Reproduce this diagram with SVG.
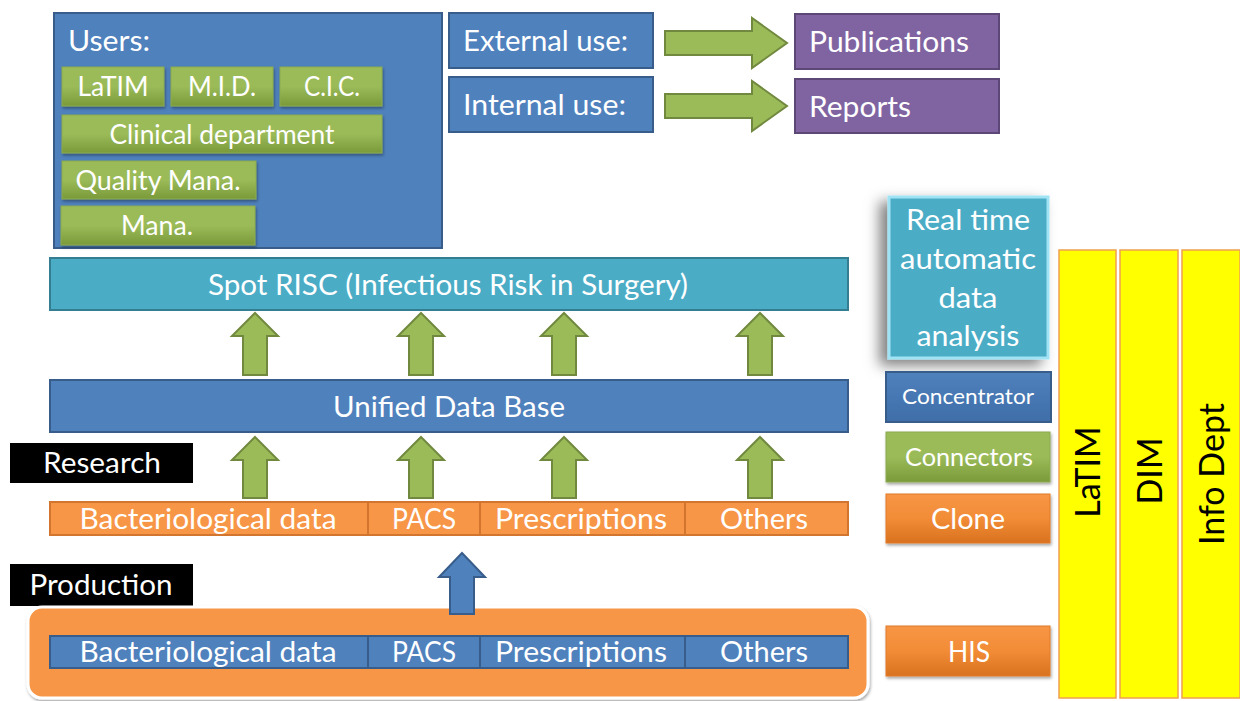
<svg xmlns="http://www.w3.org/2000/svg" width="1240" height="701" viewBox="0 0 1240 701">
<defs>
<linearGradient id="gGreen" x1="0" y1="0" x2="0" y2="1"><stop offset="0" stop-color="#9BBB59"/><stop offset="0.5" stop-color="#9BBB59"/><stop offset="1" stop-color="#7A9A3A"/></linearGradient>
<linearGradient id="gOrange" x1="0" y1="0" x2="0" y2="1"><stop offset="0" stop-color="#F79646"/><stop offset="0.5" stop-color="#F28C36"/><stop offset="1" stop-color="#D9721F"/></linearGradient>
<linearGradient id="gBlue" x1="0" y1="0" x2="0" y2="1"><stop offset="0" stop-color="#4F81BD"/><stop offset="1" stop-color="#3F6EA8"/></linearGradient>
<filter id="sh" x="-10%" y="-20%" width="130%" height="150%"><feDropShadow dx="1" dy="2" stdDeviation="1.5" flood-color="#000" flood-opacity="0.35"/></filter>
<filter id="shBig" x="-30%" y="-20%" width="150%" height="150%"><feDropShadow dx="-8" dy="6" stdDeviation="7" flood-color="#000" flood-opacity="0.5"/></filter>
<style>
.t{font-family:Lato,"Open Sans","Liberation Sans",sans-serif;fill:#fff;}
.blue{fill:#4F81BD;stroke:#385D8A;stroke-width:2;}
.green{fill:url(#gGreen);stroke:#8CAA4E;stroke-width:1;}
.orange{fill:#F79646;stroke:#D2762F;stroke-width:2;}
.purple{fill:#8064A2;stroke:#5C4776;stroke-width:2;}
.cyan{fill:#4BACC6;stroke:#357D91;stroke-width:2;}
.arrowG{fill:#9BBB59;stroke:#71893F;stroke-width:2;}
.arrowB{fill:#4F81BD;stroke:#385D8A;stroke-width:2;}
.yellow{fill:#FFFF00;stroke:#F0A050;stroke-width:1.5;}
.black{fill:#000;}
.v{font-family:Lato,"Liberation Sans",sans-serif;fill:#000;font-size:34px;}
</style>
</defs>
<rect width="1240" height="701" fill="#fff"/>

<g id="users">
<rect class="blue" x="54" y="13" width="388" height="235"/>
<text class="t" x="68" y="51" font-size="28" textLength="82" lengthAdjust="spacingAndGlyphs">Users:</text>
<g id="u-latim"><rect class="green" x="62" y="67" width="102" height="39" filter="url(#sh)"/><text class="t" x="113" y="96" font-size="26" text-anchor="middle" textLength="71" lengthAdjust="spacingAndGlyphs">LaTIM</text></g>
<g id="u-mid"><rect class="green" x="171" y="67" width="102" height="39" filter="url(#sh)"/><text class="t" x="222" y="96" font-size="26" text-anchor="middle" textLength="68" lengthAdjust="spacingAndGlyphs">M.I.D.</text></g>
<g id="u-cic"><rect class="green" x="280" y="67" width="102" height="39" filter="url(#sh)"/><text class="t" x="332" y="96" font-size="26" text-anchor="middle" textLength="56" lengthAdjust="spacingAndGlyphs">C.I.C.</text></g>
<g id="u-clin"><rect class="green" x="62" y="115" width="320" height="38" filter="url(#sh)"/><text class="t" x="222" y="144" font-size="26" text-anchor="middle" textLength="225" lengthAdjust="spacingAndGlyphs">Clinical department</text></g>
<g id="u-qual"><rect class="green" x="62" y="161" width="194" height="38" filter="url(#sh)"/><text class="t" x="158" y="190" font-size="26" text-anchor="middle" textLength="165" lengthAdjust="spacingAndGlyphs">Quality Mana.</text></g>
<g id="u-mana"><rect class="green" x="61" y="206" width="194" height="39" filter="url(#sh)"/><text class="t" x="157" y="235" font-size="26" text-anchor="middle" textLength="72" lengthAdjust="spacingAndGlyphs">Mana.</text></g>
</g>

<g id="external"><rect class="blue" x="449" y="13" width="204" height="55"/><text class="t" x="463" y="51" font-size="29" textLength="165" lengthAdjust="spacingAndGlyphs">External use:</text></g>
<g id="internal"><rect class="blue" x="449" y="77" width="204" height="55"/><text class="t" x="463" y="115" font-size="29" textLength="163" lengthAdjust="spacingAndGlyphs">Internal use:</text></g>
<g id="publications"><rect class="purple" x="795" y="14" width="204" height="55"/><text class="t" x="809" y="52" font-size="29" textLength="160" lengthAdjust="spacingAndGlyphs">Publications</text></g>
<g id="reports"><rect class="purple" x="795" y="79" width="204" height="54"/><text class="t" x="809" y="117" font-size="29" textLength="102" lengthAdjust="spacingAndGlyphs">Reports</text></g>

<g id="spot"><rect class="cyan" x="50" y="258" width="798" height="52"/><text class="t" x="448" y="295" font-size="29" text-anchor="middle" textLength="480" lengthAdjust="spacingAndGlyphs">Spot RISC (Infectious Risk in Surgery)</text></g>
<g id="unified"><rect class="blue" x="50" y="380" width="798" height="52"/><text class="t" x="449" y="417" font-size="29" text-anchor="middle" textLength="232" lengthAdjust="spacingAndGlyphs">Unified Data Base</text></g>

<g id="research"><rect class="black" x="10" y="443" width="183" height="40"/><text class="t" x="102" y="473" font-size="29" text-anchor="middle" textLength="118" lengthAdjust="spacingAndGlyphs">Research</text></g>
<g id="production"><rect class="black" x="10" y="564" width="183" height="42"/><text class="t" x="101" y="595" font-size="29" text-anchor="middle" textLength="143" lengthAdjust="spacingAndGlyphs">Production</text></g>

<g id="clone-row">
<rect class="orange" x="50" y="502" width="798" height="33"/>
<line x1="368" y1="502" x2="368" y2="535" stroke="#D2762F" stroke-width="2"/>
<line x1="480" y1="502" x2="480" y2="535" stroke="#D2762F" stroke-width="2"/>
<line x1="685" y1="502" x2="685" y2="535" stroke="#D2762F" stroke-width="2"/>
<text class="t" x="208" y="529" font-size="29" text-anchor="middle" textLength="257" lengthAdjust="spacingAndGlyphs">Bacteriological data</text>
<text class="t" x="424" y="529" font-size="29" text-anchor="middle" textLength="64" lengthAdjust="spacingAndGlyphs">PACS</text>
<text class="t" x="581" y="529" font-size="29" text-anchor="middle" textLength="172" lengthAdjust="spacingAndGlyphs">Prescriptions</text>
<text class="t" x="764" y="529" font-size="29" text-anchor="middle" textLength="88" lengthAdjust="spacingAndGlyphs">Others</text>
</g>

<g id="his-container">
<rect x="28" y="607" width="840" height="91" rx="14" fill="#F79646" stroke="#fff" stroke-width="3" filter="url(#sh)"/>
<rect class="blue" x="50" y="636" width="798" height="32"/>
<line x1="368" y1="636" x2="368" y2="668" stroke="#385D8A" stroke-width="2"/>
<line x1="480" y1="636" x2="480" y2="668" stroke="#385D8A" stroke-width="2"/>
<line x1="685" y1="636" x2="685" y2="668" stroke="#385D8A" stroke-width="2"/>
<text class="t" x="208" y="662" font-size="29" text-anchor="middle" textLength="257" lengthAdjust="spacingAndGlyphs">Bacteriological data</text>
<text class="t" x="424" y="662" font-size="29" text-anchor="middle" textLength="64" lengthAdjust="spacingAndGlyphs">PACS</text>
<text class="t" x="581" y="662" font-size="29" text-anchor="middle" textLength="172" lengthAdjust="spacingAndGlyphs">Prescriptions</text>
<text class="t" x="764" y="662" font-size="29" text-anchor="middle" textLength="88" lengthAdjust="spacingAndGlyphs">Others</text>
</g>

<g id="legend">
<g id="realtime"><rect x="889" y="197" width="159" height="161" fill="#4BACC6" stroke="#9FE3F5" stroke-width="3" filter="url(#shBig)"/>
<text class="t" font-size="29" text-anchor="middle"><tspan x="968" y="230" textLength="124" lengthAdjust="spacingAndGlyphs">Real time</tspan><tspan x="968" y="269" textLength="136" lengthAdjust="spacingAndGlyphs">automatic</tspan><tspan x="968" y="308" textLength="59" lengthAdjust="spacingAndGlyphs">data</tspan><tspan x="968" y="346" textLength="103" lengthAdjust="spacingAndGlyphs">analysis</tspan></text></g>
<g id="concentrator"><rect x="886" y="372" width="165" height="50" fill="url(#gBlue)" stroke="#385D8A" stroke-width="2"/><text class="t" x="968" y="404" font-size="22" text-anchor="middle" textLength="132" lengthAdjust="spacingAndGlyphs">Concentrator</text></g>
<g id="connectors"><rect class="green" x="886" y="432" width="164" height="50" filter="url(#sh)"/><text class="t" x="969" y="466" font-size="25" text-anchor="middle" textLength="128" lengthAdjust="spacingAndGlyphs">Connectors</text></g>
<g id="clone"><rect x="886" y="494" width="164" height="49" fill="url(#gOrange)" stroke="#E07A2A" stroke-width="1" filter="url(#sh)"/><text class="t" x="968" y="529" font-size="29" text-anchor="middle" textLength="74" lengthAdjust="spacingAndGlyphs">Clone</text></g>
<g id="his"><rect x="886" y="626" width="164" height="50" fill="url(#gOrange)" stroke="#E07A2A" stroke-width="1" filter="url(#sh)"/><text class="t" x="969" y="662" font-size="29" text-anchor="middle" textLength="42" lengthAdjust="spacingAndGlyphs">HIS</text></g>
</g>

<g id="bars">
<g id="bar-latim"><rect class="yellow" x="1059" y="250" width="57" height="448"/><text class="v" x="1100" y="472" text-anchor="middle" transform="rotate(-90 1100 472)">LaTIM</text></g>
<g id="bar-dim"><rect class="yellow" x="1120" y="250" width="58" height="448"/><text class="v" x="1162" y="471" text-anchor="middle" transform="rotate(-90 1162 471)">DIM</text></g>
<g id="bar-info"><rect class="yellow" x="1182" y="250" width="58" height="448"/><text class="v" x="1224" y="474" text-anchor="middle" transform="rotate(-90 1224 474)">Info Dept</text></g>
</g>

<g id="connectors-arrows">
<polygon class="arrowG" points="665,31 752,31 752,18 787,43 752,68 752,55 665,55"/>
<polygon class="arrowG" points="665,94 752,94 752,81 787,106 752,131 752,118 665,118"/>
<polygon class="arrowG" points="255,313 278,336 267,336 267,375 243,375 243,336 232,336"/>
<polygon class="arrowG" points="421,313 444,336 433,336 433,375 409,375 409,336 398,336"/>
<polygon class="arrowG" points="564,313 587,336 576,336 576,375 552,375 552,336 541,336"/>
<polygon class="arrowG" points="760,313 783,336 772,336 772,375 748,375 748,336 737,336"/>
<polygon class="arrowG" points="255,437 278,460 267,460 267,498 243,498 243,460 232,460"/>
<polygon class="arrowG" points="421,437 444,460 433,460 433,498 409,498 409,460 398,460"/>
<polygon class="arrowG" points="564,437 587,460 576,460 576,498 552,498 552,460 541,460"/>
<polygon class="arrowG" points="760,437 783,460 772,460 772,498 748,498 748,460 737,460"/>
<polygon class="arrowB" points="462,553 485,577 474,577 474,614 450,614 450,577 439,577"/>
</g>
</svg>
